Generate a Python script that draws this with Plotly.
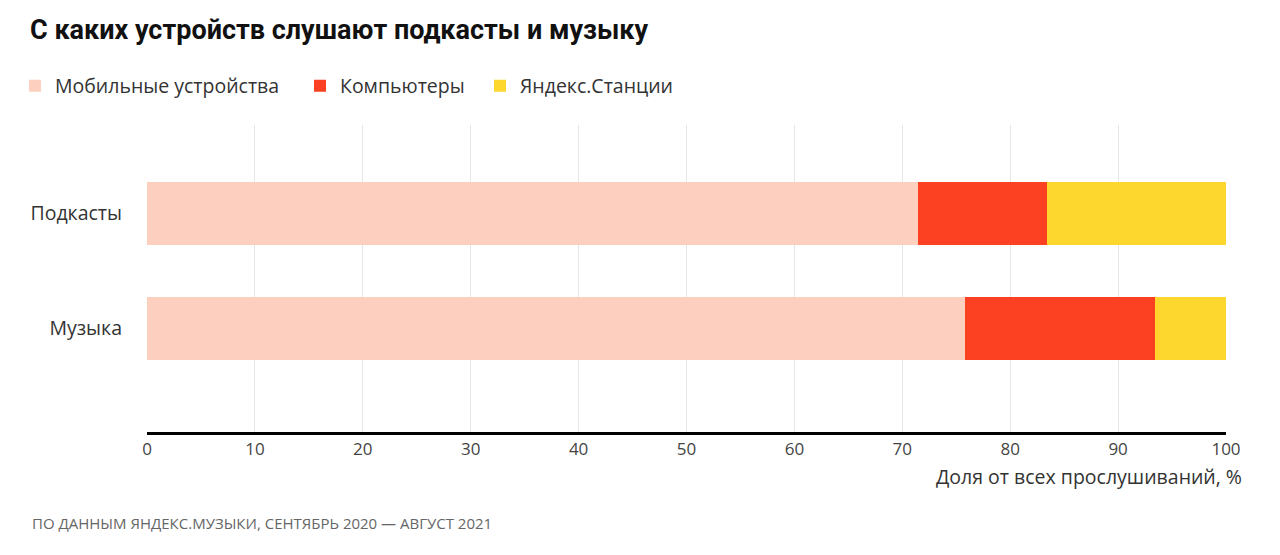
import plotly.graph_objects as go

# shares of all listens, %
categories = ["Музыка", "Подкасты"]
mobile = [75.8, 71.5]
computers = [17.6, 11.9]
stations = [6.6, 16.6]

series_names = ["Мобильные устройства", "Компьютеры", "Яндекс.Станции"]
colors = ["#FDCFBE", "#FB4122", "#FED72E"]

x_ticks = list(range(0, 101, 10))

FONT = "'Open Sans', 'Noto Sans', sans-serif"

# the page puts the figure 8px in from the top-left corner
W, H = 1272, 547

legend_ids = ["legend", "legend2", "legend3"]
legend_x = [7, 292, 472]

fig = go.Figure()
for name, vals, color, lid in zip(series_names, [mobile, computers, stations], colors, legend_ids):
    fig.add_trace(go.Bar(
        y=categories,
        x=vals,
        name=name,
        orientation="h",
        marker=dict(color=color, line=dict(width=0)),
        width=0.54,
        hoverinfo="skip",
        legend=lid,
    ))

legend_style = dict(
    orientation="h",
    xref="container", yref="container",
    xanchor="left",
    y=1 - 78 / H, yanchor="middle",
    font=dict(size=19.5, color="#333"),
    itemclick=False,
    bgcolor="rgba(0,0,0,0)",
)

fig.update_layout(
    barmode="stack",
    width=W,
    height=H,
    paper_bgcolor="white",
    plot_bgcolor="white",
    margin=dict(l=139, r=54, t=117, b=123),
    font=dict(family=FONT, color="#222"),
    title=dict(
        text="<b>С каких устройств слушают подкасты и музыку</b>",
        font=dict(size=27, color="#111", family="Roboto, 'Open Sans', sans-serif"),
        xref="container", yref="container",
        x=22 / W, xanchor="left",
        y=1 - 22 / H, yanchor="middle",
    ),
    showlegend=True,
)
for lid, lx in zip(legend_ids, legend_x):
    fig.update_layout({lid: dict(legend_style, x=lx / W)})

fig.update_xaxes(
    range=[0, 100],
    tickvals=x_ticks,
    ticktext=[str(v) for v in x_ticks],
    showgrid=True,
    gridcolor="#e6e6e6",
    gridwidth=1,
    showline=True,
    linecolor="#000",
    linewidth=3,
    zeroline=False,
    ticks="",
    tickfont=dict(size=17, color="#444"),
    fixedrange=True,
)

fig.update_yaxes(
    range=[-0.9, 1.77],
    showgrid=False,
    showline=False,
    zeroline=False,
    ticks="",
    ticklabelstandoff=24,
    tickfont=dict(size=19.5, color="#333"),
    fixedrange=True,
)

fig.add_annotation(
    text="Доля от всех прослушиваний, %",
    xref="paper", yref="paper",
    x=1, y=0,
    xanchor="right", yanchor="middle",
    xshift=18, yshift=-44,
    showarrow=False,
    font=dict(size=19.5, color="#333"),
)

fig.add_annotation(
    text="ПО ДАННЫМ ЯНДЕКС.МУЗЫКИ, СЕНТЯБРЬ 2020 — АВГУСТ 2021",
    xref="paper", yref="paper",
    x=(22 - 139) / (W - 139 - 54), y=0,
    xanchor="left", yanchor="middle",
    yshift=-(523 - 432),
    showarrow=False,
    font=dict(size=15, color="#666"),
)

fig.write_html("out.html", config={"displayModeBar": False})
